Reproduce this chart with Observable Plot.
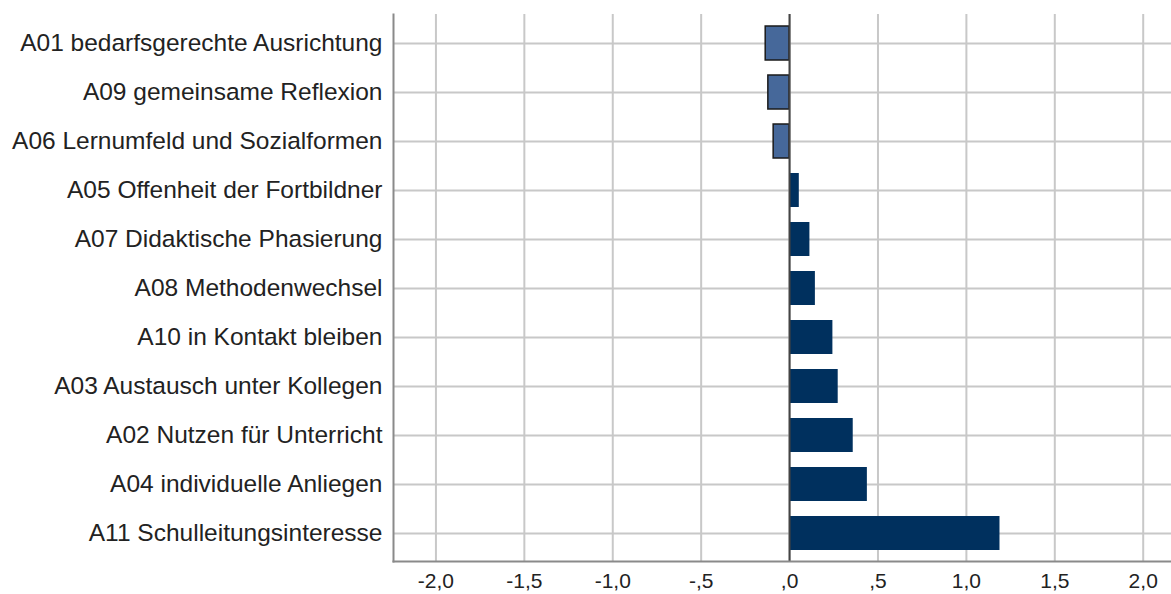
<!DOCTYPE html>
<html>
<head>
<meta charset="utf-8">
<script src="https://cdn.jsdelivr.net/npm/d3@7"></script>
<script src="https://cdn.jsdelivr.net/npm/@observablehq/plot@0.6"></script>
<style>
  html, body { margin: 0; padding: 0; background: #fff; }
</style>
</head>
<body>
<div id="chart"></div>
<script>
const categories = [
  "A01 bedarfsgerechte Ausrichtung",
  "A09 gemeinsame Reflexion",
  "A06 Lernumfeld und Sozialformen",
  "A05 Offenheit der Fortbildner",
  "A07 Didaktische Phasierung",
  "A08 Methodenwechsel",
  "A10 in Kontakt bleiben",
  "A03 Austausch unter Kollegen",
  "A02 Nutzen für Unterricht",
  "A04 individuelle Anliegen",
  "A11 Schulleitungsinteresse"
];
const values = [-0.135, -0.12, -0.09, 0.055, 0.115, 0.146, 0.245, 0.275, 0.36, 0.44, 1.19];
const xTicks = [-2, -1.5, -1, -0.5, 0, 0.5, 1, 1.5, 2];

const data = categories.map((c, i) => ({cat: c, value: values[i]}));
const neg = data.filter(d => d.value < 0);
const pos = data.filter(d => d.value >= 0);

const fmt = d => {
  let s = d.toFixed(1).replace(".", ",");
  return s.replace(/^(-?)0,/, "$1,");
};

const chart = Plot.plot({
  width: 1171,
  height: 594,
  marginLeft: 393,
  marginRight: 0,
  marginTop: 14,
  marginBottom: 33,
  style: {fontFamily: "'Liberation Sans', Arial, sans-serif", fontSize: "21px", color: "#222", background: "#fff"},
  x: {domain: [-2.24, 2.16], label: null},
  y: {domain: categories, paddingInner: 0.306, paddingOuter: 0.153, range: [18.5, 557.5], label: null},
  marks: [
    Plot.gridX(xTicks, {stroke: "#c8c8c8", strokeOpacity: 1, strokeWidth: 2}),
    Plot.gridY(categories, {stroke: "#c8c8c8", strokeOpacity: 1, strokeWidth: 2}),
    Plot.barX(pos, {x: "value", y: "cat", fill: "#00305e"}),
    Plot.barX(neg, {x: "value", y: "cat", fill: "#46689a", stroke: "#1a1a1a", strokeWidth: 1.5}),
    Plot.ruleX([0], {stroke: "#444", strokeWidth: 2}),
    Plot.frame({anchor: "left", stroke: "#8a8a8a", strokeWidth: 2}),
    Plot.frame({anchor: "bottom", stroke: "#8a8a8a", strokeWidth: 2}),
    Plot.axisX(xTicks, {tickFormat: fmt, tickSize: 0, tickPadding: 12, fontSize: 21}),
    Plot.axisY(categories, {tickSize: 0, tickPadding: 11, fontSize: 24.5})
  ]
});
document.getElementById("chart").appendChild(chart);
</script>
</body>
</html>
